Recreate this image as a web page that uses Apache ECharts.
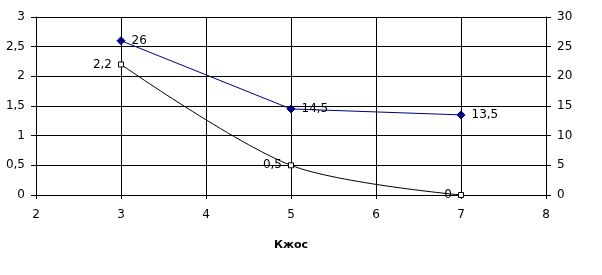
<!DOCTYPE html>
<html><head><meta charset="utf-8">
<script src="https://cdn.jsdelivr.net/npm/echarts@6/dist/echarts.min.js"></script>
<style>html,body{margin:0;padding:0;background:#fff}#c{width:602px;height:275px}</style>
</head><body><div id="c"></div>
<script>
var xValues = [3, 5, 7];
var blueValues = [26, 14.5, 13.5];   // right axis
var blackValues = [2.2, 0.5, 0];     // left axis
var xName = 'Кжос';

function comma(v){ return String(v).replace('.', ','); }
function pairs(xs, ys){ return xs.map(function(x,i){ return [x, ys[i]]; }); }

var font = 'DejaVu Sans';
var chart = echarts.init(document.getElementById('c'), null, {renderer:'canvas'});
chart.setOption({
  animation:false,
  backgroundColor:'#fff',
  grid:{left:36, right:56, top:17, bottom:80, containLabel:false},
  xAxis:{
    type:'value', min:2, max:8, interval:1,
    name:xName, nameLocation:'middle', nameGap:45,
    nameTextStyle:{fontFamily:font, fontSize:11, fontWeight:'bold', color:'#000'},
    axisLine:{show:true, onZero:false, lineStyle:{color:'#000', width:1}},
    axisTick:{show:true, length:4, lineStyle:{color:'#000'}},
    axisLabel:{fontFamily:font, fontSize:12, color:'#000', margin:14},
    splitLine:{show:true, lineStyle:{color:'#000', width:1}}
  },
  yAxis:[{
    type:'value', min:0, max:3, interval:0.5, position:'left',
    axisLine:{show:true, lineStyle:{color:'#000', width:1}},
    axisTick:{show:true, length:5, lineStyle:{color:'#000'}},
    axisLabel:{fontFamily:font, fontSize:12, color:'#000', margin:11, formatter:comma},
    splitLine:{show:true, lineStyle:{color:'#000', width:1}}
  },{
    type:'value', min:0, max:30, interval:5, position:'right',
    axisLine:{show:true, lineStyle:{color:'#000', width:1}},
    axisTick:{show:true, length:5, lineStyle:{color:'#000'}},
    axisLabel:{fontFamily:font, fontSize:12, color:'#000', margin:11},
    splitLine:{show:false}
  }],
  series:[{
    type:'line', yAxisIndex:1, data:pairs(xValues, blueValues),
    lineStyle:{color:'#000080', width:1},
    symbol:'diamond', symbolSize:8,
    itemStyle:{color:'#000080', borderColor:'#000080'},
    label:{show:true, position:'right', distance:6, fontFamily:font, fontSize:12, color:'#000', formatter:function(p){return comma(p.value[1]);}}
  },{
    type:'line', yAxisIndex:0, data:pairs(xValues, blackValues),
    smooth:0.3,
    lineStyle:{color:'#000', width:1},
    symbol:'rect', symbolSize:5,
    itemStyle:{color:'#fff', borderColor:'#000', borderWidth:1},
    label:{show:true, position:'left', distance:6, fontFamily:font, fontSize:12, color:'#000', formatter:function(p){return comma(p.value[1]);}}
  }]
});
</script></body></html>
